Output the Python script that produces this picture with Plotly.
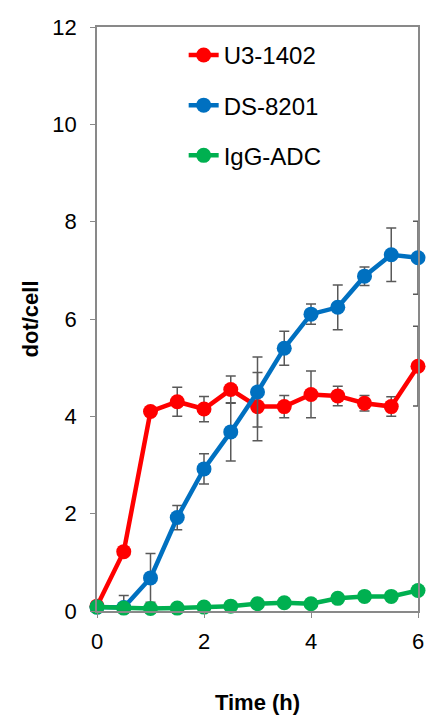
import plotly.graph_objects as go

time_h = [0, 0.5, 1, 1.5, 2, 2.5, 3, 3.5, 4, 4.5, 5, 5.5, 6]

u3_1402 = [0.10, 1.22, 4.10, 4.30, 4.15, 4.55, 4.20, 4.20, 4.45, 4.42, 4.27, 4.20, 5.03]
u3_1402_err = [0.0, 0.0, 0.0, 0.30, 0.26, 0.28, 0.70, 0.23, 0.48, 0.20, 0.16, 0.20, 0.82]

ds_8201 = [0.08, 0.07, 0.68, 1.92, 2.92, 3.68, 4.50, 5.40, 6.10, 6.24, 6.88, 7.32, 7.26]
ds_8201_err = [0.0, 0.25, 0.50, 0.25, 0.31, 0.60, 0.72, 0.35, 0.21, 0.46, 0.19, 0.55, 0.75]

igg_adc = [0.08, 0.06, 0.05, 0.06, 0.08, 0.10, 0.15, 0.17, 0.15, 0.26, 0.30, 0.30, 0.42]
igg_adc_err = [0.0] * 13

series = [
    ("U3-1402", u3_1402, u3_1402_err, "#FF0000"),
    ("DS-8201", ds_8201, ds_8201_err, "#0070C0"),
    ("IgG-ADC", igg_adc, igg_adc_err, "#00B050"),
]

y_ticks = [0, 2, 4, 6, 8, 10, 12]
x_ticks = [0, 2, 4, 6]

fig = go.Figure()
for name, vals, errs, color in series:
    fig.add_trace(go.Scatter(
        x=time_h, y=vals, name=name, mode="lines+markers",
        line=dict(color=color, width=4.5),
        marker=dict(color=color, size=15),
        error_y=dict(type="data", array=errs, visible=True,
                     color="#595959", thickness=1.5, width=5),
        cliponaxis=False,
        legendgroup=name,
    ))

fig.update_layout(
    width=427, height=719,
    margin=dict(l=97, r=9, t=27, b=108, autoexpand=False),
    paper_bgcolor="white", plot_bgcolor="white",
    font=dict(family="Liberation Sans, Arial, sans-serif", size=22, color="black"),
    showlegend=True,
    legend=dict(x=0.27, y=0.99, xanchor="left", yanchor="top",
                bgcolor="rgba(0,0,0,0)", font=dict(size=24),
                tracegroupgap=16, traceorder="grouped"),
    xaxis=dict(range=[0, 6], tickvals=x_ticks, ticks="outside", ticklen=5,
               tickcolor="#898989", linecolor="#898989", linewidth=1.5,
               mirror=True, showgrid=False, zeroline=False, automargin=False,
               ticklabelstandoff=5,
               title=dict(text="<b>Time (h)</b>", font=dict(size=22), standoff=41),
               tickfont=dict(size=22)),
    yaxis=dict(range=[0, 12], tickvals=y_ticks, ticks="outside", ticklen=5,
               tickcolor="#898989", linecolor="#898989", linewidth=1.5,
               mirror=True, showgrid=False, zeroline=False, automargin=False,
               ticklabelstandoff=9,
               title=dict(text="<b>dot/cell</b>", font=dict(size=22), standoff=8),
               tickfont=dict(size=22)),
)

fig.write_html("out.html",
               config={"displayModeBar": False},
               post_script="document.body.style.margin='0';document.body.style.overflow='hidden';")
